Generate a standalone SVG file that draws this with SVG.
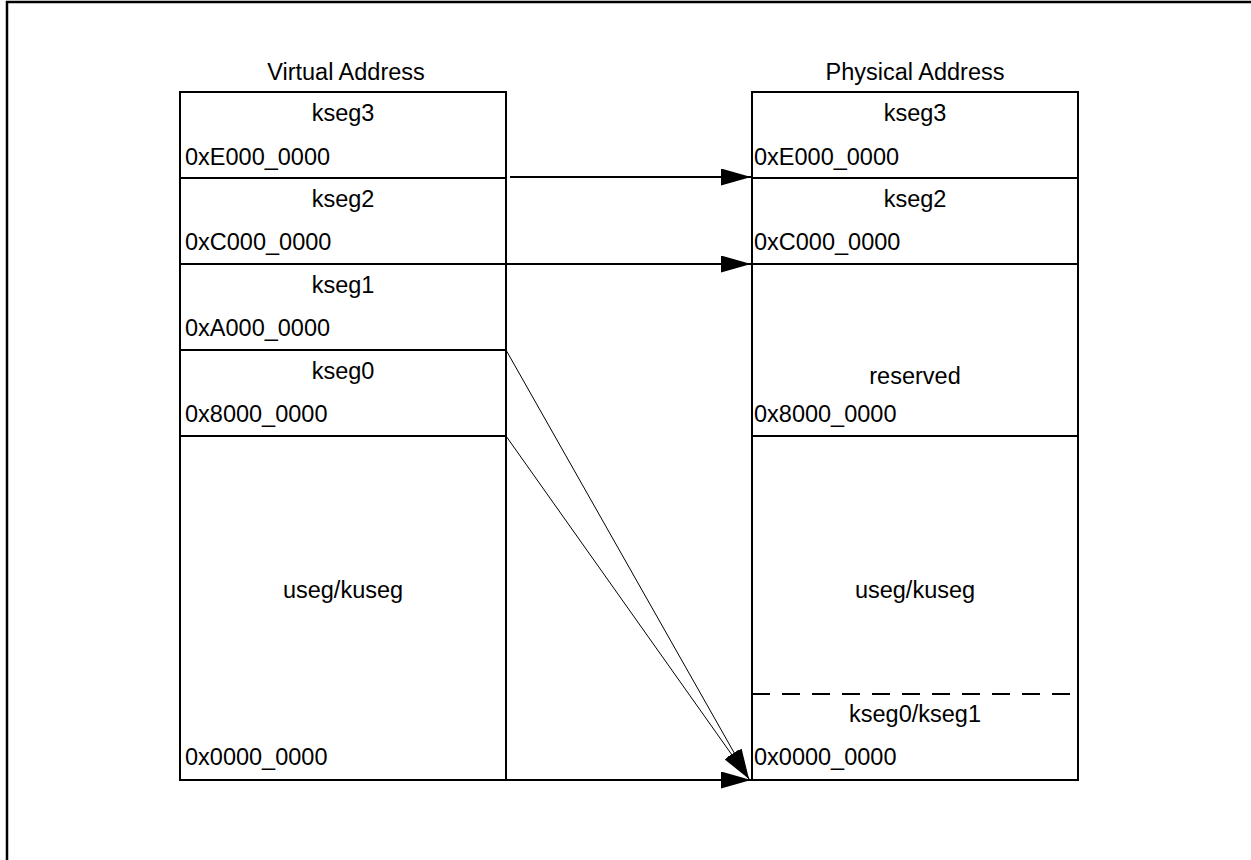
<svg xmlns="http://www.w3.org/2000/svg" width="1251" height="860" viewBox="0 0 1251 860">
<style>
.box{fill:none;stroke:#000;stroke-width:2}
.t{font-family:"Liberation Sans",Arial,sans-serif;font-size:23.5px;fill:#000}
.c{text-anchor:middle}
.ar{stroke:#000;stroke-width:2;fill:none}
.dg{stroke:#000;stroke-width:1;fill:none}
</style>
<defs>
<marker id="ah" markerUnits="userSpaceOnUse" markerWidth="32" markerHeight="18" refX="30" refY="8.5" orient="auto" viewBox="0 0 32 18">
<path d="M0,0 L30,8.5 L0,17 z" fill="#000"/>
</marker>
</defs>
<rect x="7" y="2" width="1270" height="880" fill="none" stroke="#000" stroke-width="2.5"/>
<g id="virtual">
<text class="t c" x="346" y="80">Virtual Address</text>
<rect class="box" x="180" y="92" width="326" height="688"/>
<line class="box" x1="180" y1="178" x2="506" y2="178"/>
<line class="box" x1="180" y1="264" x2="506" y2="264"/>
<line class="box" x1="180" y1="350" x2="506" y2="350"/>
<line class="box" x1="180" y1="436" x2="506" y2="436"/>
<text class="t c" x="343" y="121">kseg3</text>
<text class="t" x="185" y="165">0xE000_0000</text>
<text class="t c" x="343" y="207">kseg2</text>
<text class="t" x="185" y="250">0xC000_0000</text>
<text class="t c" x="343" y="293">kseg1</text>
<text class="t" x="185" y="336">0xA000_0000</text>
<text class="t c" x="343" y="379">kseg0</text>
<text class="t" x="185" y="422">0x8000_0000</text>
<text class="t c" x="343" y="598">useg/kuseg</text>
<text class="t" x="185" y="765">0x0000_0000</text>
</g>
<g id="physical">
<text class="t c" x="915" y="80">Physical Address</text>
<rect class="box" x="752" y="92" width="326" height="688"/>
<line class="box" x1="752" y1="178" x2="1078" y2="178"/>
<line class="box" x1="752" y1="264" x2="1078" y2="264"/>
<line class="box" x1="752" y1="436" x2="1078" y2="436"/>
<line x1="752" y1="694" x2="1082" y2="694" stroke="#000" stroke-width="2" stroke-dasharray="18,12"/>
<text class="t c" x="915" y="121">kseg3</text>
<text class="t" x="754" y="165">0xE000_0000</text>
<text class="t c" x="915" y="207">kseg2</text>
<text class="t" x="754" y="250">0xC000_0000</text>
<text class="t c" x="915" y="384">reserved</text>
<text class="t" x="754" y="422">0x8000_0000</text>
<text class="t c" x="915" y="598">useg/kuseg</text>
<text class="t c" x="915" y="722">kseg0/kseg1</text>
<text class="t" x="754" y="765">0x0000_0000</text>
</g>
<g id="connectors">
<line class="ar" x1="510" y1="177" x2="751" y2="177" marker-end="url(#ah)"/>
<line class="ar" x1="506" y1="264" x2="751" y2="264" marker-end="url(#ah)"/>
<line class="ar" x1="506" y1="780" x2="751" y2="780" marker-end="url(#ah)"/>
<line class="dg" x1="506" y1="350" x2="749" y2="779" marker-end="url(#ah)"/>
<line class="dg" x1="506" y1="436" x2="749" y2="779" marker-end="url(#ah)"/>
</g>
</svg>
